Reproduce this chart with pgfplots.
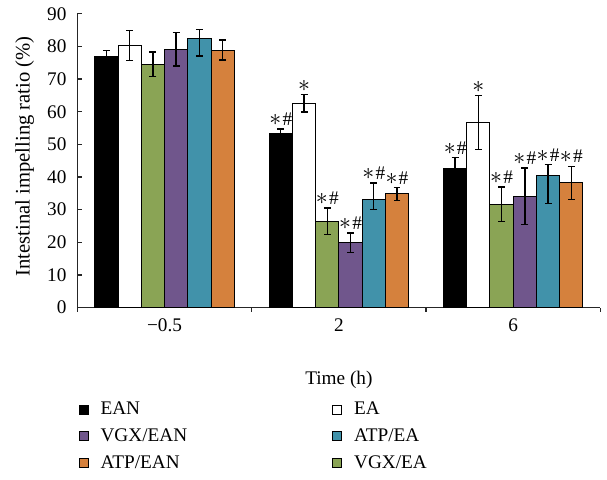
\documentclass[border=0pt]{standalone}
\usepackage{fontspec}
\setmainfont{Liberation Serif}
\usepackage{pgfplots}
\pgfplotsset{compat=1.18}
\definecolor{cgreen}{HTML}{8AA455}
\definecolor{cpurple}{HTML}{70568C}
\definecolor{cteal}{HTML}{4192AA}
\definecolor{corange}{HTML}{D5813D}
\newcommand{\sig}{{\fontsize{12}{12}\selectfont$\ast$}\kern0.6pt\#}
\newcommand{\sigs}{{\fontsize{12}{12}\selectfont$\ast$}}

\begin{document}
\begin{tikzpicture}[font=\fontsize{9.7}{11.6}\selectfont]
\begin{axis}[
  scale only axis, width=263.5pt, height=148pt,
  xmin=-0.5, xmax=2.5, ymin=0, ymax=90,
  axis x line=bottom, axis y line=left,
  axis line style={-, line width=0.6pt, black!85},
  ytick={0,10,...,90},
  xtick={-0.5,0.5,1.5,2.5}, xticklabels={},
  extra x ticks={0,1,2}, extra x tick labels={−0.5,2,6},
  extra x tick style={xtick style={draw=none}},
  tick align=inside, major tick length=2.2pt,
  tick style={black!85, line width=0.6pt},
  tick label style={/pgf/number format/assume math mode=true},
  yticklabel style={xshift=-2pt},
  xlabel={Time (h)},
  xlabel style={at={(axis description cs:0.5,-0.247)}, anchor=center},
  ylabel={Intestinal impelling ratio (\%)},
  ylabel style={at={(axis description cs:-0.1006,0.515)}, anchor=center,
    font=\fontsize{10.4}{12}\selectfont},
  clip=false,
  ybar=0pt, bar width=0.13333,
  every axis plot/.append style={draw=black, line width=0.5pt,
    error bars/y dir=both, error bars/y explicit,
    error bars/error bar style={line width=0.7pt, black},
    error bars/error mark options={rotate=90, mark size=1.75pt, line width=0.7pt, black}},
  legend columns=2, legend cell align=left,
  legend image code/.code={\draw[#1, line width=0.5pt] (0pt,-2.3pt) rectangle (4.6pt,2.3pt);},
  legend style={draw=none, fill=none, at={(axis description cs:-0.01,-0.29)}, anchor=north west,
    row sep=0.9pt, nodes={text height=6.8pt, text depth=1.8pt, inner sep=2pt},
    /tikz/every odd column/.append style={column sep=4pt},
    /tikz/every even column/.append style={column sep=71pt}},
]
% EAN
\addplot[fill=black, bar shift=-0.33333, forget plot] coordinates {
  (0,76.8) +- (0,2.0) (1,53.4) +- (0,1.3) (2,42.5) +- (0,3.5)};
% EA
\addplot[fill=white, bar shift=-0.2, forget plot] coordinates {
  (0,80.2) +- (0,4.6) (1,62.6) +- (0,2.7) (2,56.7) +- (0,8.3)};
% VGX/EA
\addplot[fill=cgreen, bar shift=-0.066667, forget plot] coordinates {
  (0,74.5) +- (0,3.8) (1,26.4) +- (0,4.1) (2,31.6) +- (0,5.3)};
% VGX/EAN
\addplot[fill=cpurple, bar shift=0.066667, forget plot] coordinates {
  (0,79.1) +- (0,5.1) (1,19.9) +- (0,3.0) (2,34.1) +- (0,8.6)};
% ATP/EA (asymmetric bars as drawn)
\addplot[fill=cteal, bar shift=0.2, forget plot] coordinates {
  (0,82.3) += (0,2.8) -= (0,5.2)
  (1,33.2) += (0,5.0) -= (0,3.1)
  (2,40.5) += (0,3.3) -= (0,8.6)};
% ATP/EAN
\addplot[fill=corange, bar shift=0.33333, forget plot] coordinates {
  (0,78.9) +- (0,3.1) (1,34.8) +- (0,2.0) (2,38.2) +- (0,5.1)};

\addlegendimage{fill=black, draw=black}
\addlegendentry{EAN}
\addlegendimage{fill=white, draw=black}
\addlegendentry{EA}
\addlegendimage{fill=cpurple, draw=black}
\addlegendentry{VGX/EAN}
\addlegendimage{fill=cteal, draw=black}
\addlegendentry{ATP/EA}
\addlegendimage{fill=corange, draw=black}
\addlegendentry{ATP/EAN}
\addlegendimage{fill=cgreen, draw=black}
\addlegendentry{VGX/EA}

% significance marks
\begin{scope}[every node/.style={anchor=south, inner sep=1.5pt}]
\node at (axis cs:0.66667,54.7) {\sig};
\node at (axis cs:0.8,65.3) {\sigs};
\node at (axis cs:0.93333,30.5) {\sig};
\node at (axis cs:1.06667,22.9) {\sig};
\node at (axis cs:1.2,38.2) {\sig};
\node at (axis cs:1.33333,36.8) {\sig};
\node at (axis cs:1.66667,46.0) {\sig};
\node at (axis cs:1.8,65.0) {\sigs};
\node at (axis cs:1.93333,36.9) {\sig};
\node at (axis cs:2.06667,42.7) {\sig};
\node at (axis cs:2.2,43.8) {\sig};
\node at (axis cs:2.33333,43.3) {\sig};
\end{scope}

\path (axis description cs:-0.148,-0.530) rectangle (axis description cs:1.004,1.047);
\end{axis}
\end{tikzpicture}
\end{document}
